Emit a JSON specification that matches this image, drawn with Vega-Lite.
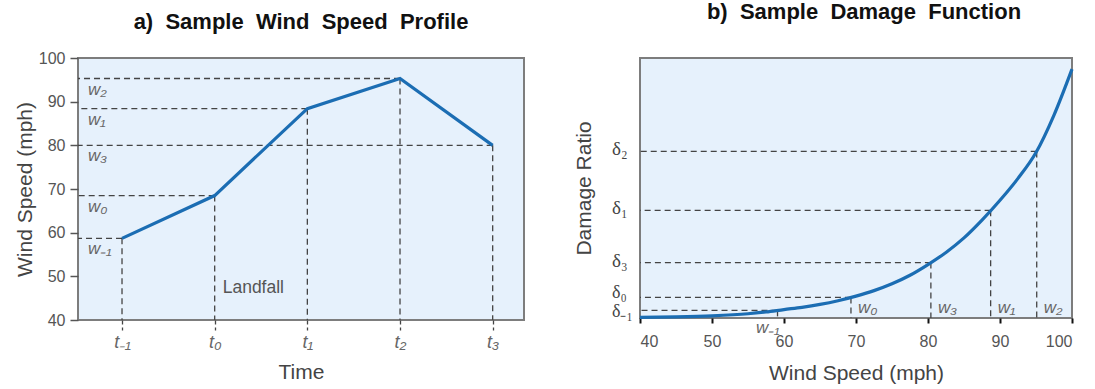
{
  "$schema": "https://vega.github.io/schema/vega-lite/v6.json",
  "background": "white",
  "padding": {"left": 13, "top": 0, "right": 5, "bottom": 5},
  "spacing": 47,
  "config": {
    "font": "Liberation Sans",
    "view": {"fill": "#e6f1fc", "stroke": "#7d7d7d", "strokeWidth": 2},
    "axis": {"grid": false, "labelColor": "#555555", "titleColor": "#444444", "labelFont": "Liberation Sans", "titleFont": "Liberation Sans", "titleFontWeight": "normal", "labelFontSize": 16, "titleFontSize": 21},
    "title": {"font": "Liberation Sans", "fontSize": 22, "fontWeight": "bold", "color": "#111111", "baseline": "alphabetic"}
  },
  "datasets": {
    "profile": [
      {"t": -1, "w": 58.7, "wl": "w₋₁"},
      {"t": 0, "w": 68.5, "wl": "w₀"},
      {"t": 1, "w": 88.4, "wl": "w₁"},
      {"t": 2, "w": 95.3, "wl": "w₂"},
      {"t": 3, "w": 80.0, "wl": "w₃"}
    ],
    "note": [{"t": 0, "w": 47.3, "txt": "Landfall"}],
    "damage": [
      {"w": 40, "d": 0.002}, {"w": 45, "d": 0.004}, {"w": 50, "d": 0.008}, {"w": 55, "d": 0.016},
      {"w": 57.5, "d": 0.023}, {"w": 60, "d": 0.032}, {"w": 62.5, "d": 0.0404}, {"w": 65, "d": 0.0514},
      {"w": 67.5, "d": 0.0655}, {"w": 70, "d": 0.083}, {"w": 72.5, "d": 0.1037}, {"w": 75, "d": 0.1296},
      {"w": 77.5, "d": 0.162}, {"w": 80, "d": 0.2025}, {"w": 82.5, "d": 0.2484}, {"w": 85, "d": 0.3034},
      {"w": 87.5, "d": 0.3708}, {"w": 90, "d": 0.446}, {"w": 92.5, "d": 0.529}, {"w": 95, "d": 0.627},
      {"w": 97.5, "d": 0.769}, {"w": 100, "d": 0.943}
    ],
    "marks": [
      {"w": 59.1, "d": 0.029, "wl": "w₋₁", "dl": "δ₋₁"},
      {"w": 69.3, "d": 0.078, "wl": "w₀", "dl": "δ₀"},
      {"w": 80.4, "d": 0.210, "wl": "w₃", "dl": "δ₃"},
      {"w": 88.7, "d": 0.408, "wl": "w₁", "dl": "δ₁"},
      {"w": 95.1, "d": 0.631, "wl": "w₂", "dl": "δ₂"}
    ]
  },
  "hconcat": [
    {
      "width": 446,
      "height": 262,
      "title": {"text": "a)\u00a0\u00a0Sample\u00a0\u00a0Wind\u00a0\u00a0Speed\u00a0\u00a0Profile", "offset": 18, "dy": 2},
      "data": {"name": "profile"},
      "layer": [
        {
          "mark": {"type": "rule", "strokeDash": [6, 4], "color": "#444444", "strokeWidth": 1.3},
          "encoding": {
            "x": {"field": "t", "type": "quantitative"},
            "x2": {"datum": -1.475},
            "y": {"field": "w", "type": "quantitative"}
          }
        },
        {
          "mark": {"type": "rule", "strokeDash": [6, 4], "color": "#444444", "strokeWidth": 1.3},
          "encoding": {
            "x": {"field": "t", "type": "quantitative"},
            "y": {"field": "w", "type": "quantitative"},
            "y2": {"datum": 40}
          }
        },
        {
          "mark": {"type": "line", "color": "#1b6db3", "strokeWidth": 3.2},
          "encoding": {
            "x": {"field": "t", "type": "quantitative", "scale": {"domain": [-1.475, 3.338], "nice": false, "zero": false},
              "axis": {"values": [-1, 0, 1, 2, 3], "labelExpr": "['t₋₁','t₀','t₁','t₂','t₃'][datum.value + 1]", "tickSize": 10, "tickDash": [4, 3], "tickColor": "#444444", "tickWidth": 1.3, "domain": false, "labelFontStyle": "italic", "labelFontSize": 18, "labelColor": "#666666", "labelPadding": 3, "title": "Time", "titlePadding": 10}},
            "y": {"field": "w", "type": "quantitative", "scale": {"domain": [40, 100], "nice": false, "zero": false},
              "axis": {"values": [40, 50, 60, 70, 80, 90, 100], "tickSize": 8, "tickColor": "#555555", "tickWidth": 1.5, "domain": false, "labelPadding": 5, "title": "Wind Speed (mph)", "titlePadding": 3}}
          }
        },
        {
          "mark": {"type": "text", "align": "left", "baseline": "middle", "dx": 10, "dy": 11, "fontSize": 17, "fontStyle": "italic", "color": "#666666"},
          "encoding": {
            "x": {"datum": -1.475, "type": "quantitative"},
            "y": {"field": "w", "type": "quantitative"},
            "text": {"field": "wl"}
          }
        },
        {
          "data": {"name": "note"},
          "mark": {"type": "text", "align": "left", "baseline": "middle", "dx": 8, "fontSize": 17.5, "color": "#555555"},
          "encoding": {
            "x": {"field": "t", "type": "quantitative"},
            "y": {"field": "w", "type": "quantitative"},
            "text": {"field": "txt"}
          }
        }
      ]
    },
    {
      "width": 432,
      "height": 260,
      "title": {"text": "b)\u00a0\u00a0Sample\u00a0\u00a0Damage\u00a0\u00a0Function", "offset": 30, "dx": 8, "dy": -4},
      "layer": [
        {
          "data": {"name": "marks"},
          "mark": {"type": "rule", "strokeDash": [6, 4], "color": "#444444", "strokeWidth": 1.3},
          "encoding": {
            "x": {"field": "w", "type": "quantitative"},
            "x2": {"datum": 40},
            "y": {"field": "d", "type": "quantitative"}
          }
        },
        {
          "data": {"name": "marks"},
          "mark": {"type": "rule", "strokeDash": [6, 4], "color": "#444444", "strokeWidth": 1.3},
          "encoding": {
            "x": {"field": "w", "type": "quantitative"},
            "y": {"field": "d", "type": "quantitative"},
            "y2": {"datum": 0}
          }
        },
        {
          "data": {"name": "damage"},
          "mark": {"type": "line", "color": "#1b6db3", "strokeWidth": 3.2, "interpolate": "monotone"},
          "encoding": {
            "x": {"field": "w", "type": "quantitative", "scale": {"domain": [40, 100], "nice": false, "zero": false},
              "axis": {"values": [40, 50, 60, 70, 80, 90, 100], "tickSize": 5, "tickColor": "#111111", "tickWidth": 2, "domain": false, "labelPadding": 10, "title": "Wind Speed (mph)", "titlePadding": 13}},
            "y": {"field": "d", "type": "quantitative", "scale": {"domain": [0, 0.985], "nice": false, "zero": false},
              "axis": {"labels": false, "ticks": false, "domain": false, "title": "Damage Ratio", "titlePadding": 46}}
          }
        },
        {
          "data": {"name": "marks"},
          "transform": [{"filter": "datum.w > 70"}],
          "mark": {"type": "text", "align": "left", "baseline": "alphabetic", "dx": -28, "dy": 4, "fontSize": 19, "font": "Liberation Serif", "color": "#444444"},
          "encoding": {
            "x": {"datum": 40, "type": "quantitative"},
            "y": {"field": "d", "type": "quantitative"},
            "text": {"field": "dl"}
          }
        },
        {
          "data": {"name": "marks"},
          "transform": [{"filter": "datum.w > 60 && datum.w < 70"}],
          "mark": {"type": "text", "align": "left", "baseline": "alphabetic", "dx": -28, "dy": 1, "fontSize": 18, "font": "Liberation Serif", "color": "#444444"},
          "encoding": {
            "x": {"datum": 40, "type": "quantitative"},
            "y": {"field": "d", "type": "quantitative"},
            "text": {"field": "dl"}
          }
        },
        {
          "data": {"name": "marks"},
          "transform": [{"filter": "datum.w < 60"}],
          "mark": {"type": "text", "align": "left", "baseline": "alphabetic", "dx": -28, "dy": 7, "fontSize": 18, "font": "Liberation Serif", "color": "#444444"},
          "encoding": {
            "x": {"datum": 40, "type": "quantitative"},
            "y": {"field": "d", "type": "quantitative"},
            "text": {"field": "dl"}
          }
        },
        {
          "data": {"name": "marks"},
          "transform": [{"filter": "datum.w > 60"}],
          "mark": {"type": "text", "align": "left", "baseline": "middle", "dx": 7, "dy": -10, "fontSize": 17, "fontStyle": "italic", "color": "#666666"},
          "encoding": {
            "x": {"field": "w", "type": "quantitative"},
            "y": {"datum": 0, "type": "quantitative"},
            "text": {"field": "wl"}
          }
        },
        {
          "data": {"name": "marks"},
          "transform": [{"filter": "datum.w < 60"}],
          "mark": {"type": "text", "align": "right", "baseline": "middle", "dx": 2, "dy": 10, "fontSize": 17, "fontStyle": "italic", "color": "#666666"},
          "encoding": {
            "x": {"field": "w", "type": "quantitative"},
            "y": {"datum": 0, "type": "quantitative"},
            "text": {"field": "wl"}
          }
        }
      ]
    }
  ]
}
